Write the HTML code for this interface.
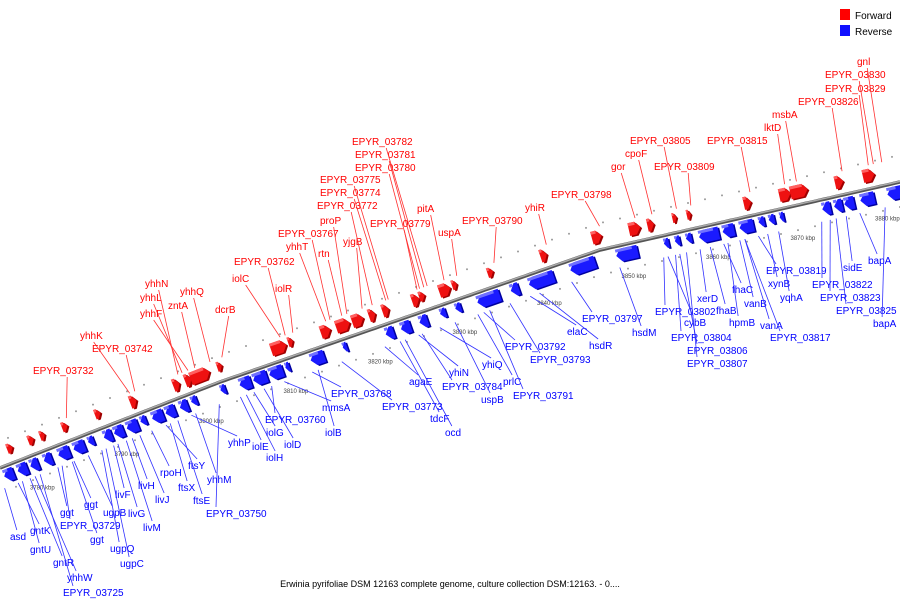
<!DOCTYPE html>
<html><head><meta charset="utf-8"><style>
html,body{margin:0;padding:0;background:#fff;}
svg{display:block;font-family:"Liberation Sans","DejaVu Sans",sans-serif;}
</style></head><body>
<svg id="chart" width="900" height="600" viewBox="0 0 900 600" xmlns="http://www.w3.org/2000/svg">
<g>
<rect x="840" y="9" width="10" height="11" fill="#ff0000"/>
<text x="855" y="19" font-size="10" fill="#000">Forward</text>
<rect x="840" y="25" width="10" height="11" fill="#1010ff"/>
<text x="855" y="35" font-size="10" fill="#000">Reverse</text>
</g>
<text x="450" y="587" font-size="9" text-anchor="middle" fill="#000">Erwinia pyrifoliae DSM 12163 complete genome, culture collection DSM:12163. - 0....</text>
<g id="layer"></g>
</svg>
<script>
// ---- data (kbp) ----
const tickKbp = [3780,3790,3800,3810,3820,3830,3840,3850,3860,3870,3880];
const tickLabels = ["3780 kbp","3790 kbp","3800 kbp","3810 kbp","3820 kbp","3830 kbp","3840 kbp","3850 kbp","3860 kbp","3870 kbp","3880 kbp"];
const fwdStart = [3777.9,3780.4,3781.8,3784.4,3788.3,3792.4,3797.5,3798.9,3799.5,3802.7,3809.0,3811.1,3814.9,3816.7,3818.6,3820.6,3822.2,3825.7,3826.6,3828.9,3830.5,3834.7,3840.9,3846.9,3851.2,3853.4,3856.4,3858.1,3864.8,3869.0,3870.3,3875.6,3878.9];
const fwdLen   = [0.7,0.7,0.6,0.7,0.7,0.8,0.8,0.8,2.4,0.6,1.9,0.6,1.2,1.7,1.4,0.8,0.8,0.9,0.7,1.4,0.6,0.7,0.8,1.2,1.4,0.8,0.5,0.5,0.9,1.4,2.1,1.0,1.4];
const revStart = [3776.5,3778.1,3779.6,3781.2,3782.9,3784.7,3786.5,3788.3,3789.5,3791.0,3792.7,3794.0,3795.6,3797.3,3798.7,3802.2,3804.4,3806.0,3807.9,3809.9,3812.8,3816.7,3821.7,3823.5,3825.7,3828.2,3830.0,3832.5,3836.5,3838.6,3843.5,3849.1,3854.8,3856.1,3857.4,3858.9,3861.7,3863.7,3866.0,3867.2,3868.5,3873.5,3874.9,3876.1,3878.0,3881.2];
const revLen   = [1.2,1.2,1.0,1.0,1.4,1.4,0.7,1.0,1.2,1.4,0.7,1.4,1.2,1.0,0.7,0.6,1.4,1.7,1.7,0.5,1.7,0.5,1.0,1.2,1.0,0.7,0.7,2.8,1.0,3.1,3.1,2.6,0.6,0.6,0.7,2.4,1.4,1.7,0.7,0.7,0.5,1.0,1.0,1.2,1.7,1.7];
const fwdNames = ["EPYR_03732","yhhK","EPYR_03742","yhhN","yhhL","yhhF","zntA","yhhQ","dcrB","iolC","EPYR_03762","iolR","yhhT","EPYR_03767","rtn","proP","yjgB","EPYR_03772","EPYR_03774","EPYR_03775","EPYR_03780","EPYR_03781","EPYR_03782","EPYR_03779","pitA","uspA","EPYR_03790","yhiR","EPYR_03798","gor","cpoF","EPYR_03805","EPYR_03809","EPYR_03815","lktD","msbA","EPYR_03826","EPYR_03829","EPYR_03830","gnl"];
const fwdAnchor = [3784.3,3791.8,3792.4,3797.5,3798.0,3798.7,3799.5,3801.3,3802.7,3809.6,3810.2,3811.1,3815.0,3815.5,3816.9,3817.5,3819.3,3820.5,3822.1,3822.4,3826.1,3826.6,3827.0,3825.8,3829.0,3830.5,3834.9,3841.1,3847.4,3851.6,3853.6,3856.5,3858.2,3865.2,3869.3,3870.7,3876.1,3879.2,3879.8,3880.8];
const revNames = ["asd","gntK","gntU","gntR","yhhW","EPYR_03725","ggt","EPYR_03729","ggt","ggt","ugpB","ugpQ","ugpC","livF","livG","livM","livH","livJ","rpoH","ftsY","ftsX","ftsE","yhhP","yhhM","EPYR_03750","iolE","iolH","iolG","iolD","EPYR_03760","mmsA","EPYR_03768","iolB","EPYR_03773","agaE","tdcF","ocd","yhiN","EPYR_03784","yhiQ","uspB","prlC","EPYR_03792","EPYR_03791","EPYR_03793","elaC","hsdR","EPYR_03797","hsdM","EPYR_03802","cybB","EPYR_03804","EPYR_03806","EPYR_03807","xerD","fhaB","fhaC","hpmB","vanB","vanA","EPYR_03819","xynB","yqhA","EPYR_03817","EPYR_03822","EPYR_03823","EPYR_03825","sidE","bapA","bapA"];
const revAnchor = [3777.0,3778.6,3779.1,3780.0,3780.6,3781.2,3783.3,3783.8,3785.2,3785.0,3786.9,3788.5,3789.0,3789.9,3790.4,3791.4,3792.1,3793.0,3794.4,3796.1,3796.6,3797.5,3799.1,3799.6,3802.4,3804.9,3805.6,3806.5,3807.7,3808.6,3810.1,3813.4,3814.1,3816.9,3822.0,3823.8,3824.4,3826.0,3826.4,3828.5,3830.3,3833.0,3833.7,3834.4,3836.8,3839.2,3840.3,3844.1,3849.8,3855.0,3855.5,3856.4,3856.9,3857.7,3859.3,3860.5,3862.1,3862.6,3864.0,3864.6,3866.2,3867.3,3868.6,3864.6,3873.7,3874.7,3875.4,3876.6,3878.2,3881.2];

// ---- layout (label placement, pixels) ----
const fwdLabelPos = [[33,374],[80,339],[92,352],[145,287],[140,301],[140,317],[168,309],[180,295],[215,313],[232,282],[234,265],[275,292],[286,250],[278,237],[318,257],[320,224],[343,245],[317,209],[320,196],[320,183],[355,171],[355,158],[352,145],[370,227],[417,212],[438,236],[462,224],[525,211],[551,198],[611,170],[625,157],[630,144],[654,170],[707,144],[764,131],[772,118],[798,105],[825,92],[825,78],[857,65]];
const revLabelPos = [[10,540],[30,534],[30,553],[53,566],[67,581],[63,596],[60,516],[60,529],[84,508],[90,543],[103,516],[110,552],[120,567],[115,498],[128,517],[143,531],[138,489],[155,503],[160,476],[188,469],[178,491],[193,504],[228,446],[207,483],[206,517],[252,450],[266,461],[266,436],[284,448],[265,423],[322,411],[331,397],[325,436],[382,410],[409,385],[430,422],[445,436],[449,376],[442,390],[482,368],[481,403],[503,385],[505,350],[513,399],[530,363],[567,335],[589,349],[582,322],[632,336],[655,315],[684,326],[671,341],[687,354],[687,367],[697,302],[716,314],[732,293],[729,326],[744,307],[760,329],[766,274],[768,287],[780,301],[770,341],[812,288],[820,301],[836,314],[843,271],[868,264],[873,327]];

const NS = "http://www.w3.org/2000/svg";
const layer = document.getElementById('layer');
const K0 = 3776.45, PXK = 8.45;
function xOf(k){ return (k - K0) * PXK; }
const LP = [[0,468],[220,382],[600,250],[900,182],[1000,160]];
function yOf(x){
  for(let i=0;i<LP.length-1;i++){
    const a=LP[i], b=LP[i+1];
    if(x<=b[0]){ return a[1] + (b[1]-a[1])*(x-a[0])/(b[0]-a[0]); }
  }
  return LP[LP.length-1][1];
}
function ang(x){ return Math.atan2(yOf(x+3)-yOf(x-3), 6)*180/Math.PI; }
function mk(tag, attrs, parent){
  const e=document.createElementNS(NS,tag);
  for(const k in attrs) e.setAttribute(k, attrs[k]);
  (parent||layer).appendChild(e); return e;
}

// decorative dots
const dots = mk('g',{});


for(let x=8;x<900;x+=17){
  mk('circle',{cx:x, cy:yOf(x)-27, r:1, fill:'#999'}, dots);
  mk('circle',{cx:x+8, cy:yOf(x+8)+25, r:1, fill:'#999'}, dots);
}

// axis line
const axisPts=[]; for(let x=0;x<=900;x+=5) axisPts.push(x+','+yOf(x).toFixed(1));
const axShadow = mk('polyline',{points:axisPts.join(' '), fill:'none', stroke:'#555', 'stroke-width':3.5});


const ax = mk('polyline',{points:axisPts.join(' '), fill:'none', stroke:'#aaa', 'stroke-width':1.5, transform:'translate(0,-0.7)'});



// ticks
tickKbp.forEach((k,i)=>{
  const x=xOf(k);
  const t = mk('text',{x:x, y:yOf(x)+33, 'font-size':6, fill:'#444'});
  
  
  t.textContent = tickLabels[i];
});

// genes
function gene(k, len, fwd){
  const x0 = xOf(k), w = Math.max(3, len*PXK), cx = x0 + w/2;
  const g = mk('g',{transform:`translate(${cx},${yOf(cx)}) rotate(${ang(cx)})`});
  
  
  const h = w < 6 ? 10 : 13;
  const top = fwd ? -20 : 3;
  const head = Math.min(5, w*0.6);
  let pts;
  if(fwd) pts = [[-w/2,top],[w/2-head,top],[w/2,top+h/2],[w/2-head,top+h],[-w/2,top+h]];
  else pts = [[w/2,top],[-w/2+head,top],[-w/2,top+h/2],[-w/2+head,top+h],[w/2,top+h]];
  const s = pts.map(p=>p.join(',')).join(' ');
  mk('polygon',{points:s, fill: fwd?'#a00000':'#0000a0', transform:'translate(1.5,1.5)'}, g);
  mk('polygon',{points:s, fill: fwd?'#ee1111':'#1a1aff'}, g);
  mk('rect',{x:-w/2, y:top, width:Math.max(1,w-head), height:3, fill: fwd?'#ff6060':'#7070ff'}, g);
}
fwdStart.forEach((k,i)=>gene(k, fwdLen[i], true));
revStart.forEach((k,i)=>gene(k, revLen[i], false));

// labels
function label(name, k, pos, fwd){
  const g = mk('g',{});
  
  
  const col = fwd ? '#ff0000' : '#0000ff';
  const t = mk('text',{x:pos[0], y:pos[1], 'font-size':10, fill:col}, g);
  t.textContent = name;
  const w = name.length * 5.7;
  const ax = xOf(k);
  let x1,y1,x2,y2;
  if(fwd){ x1 = pos[0] + w*0.6; y1 = pos[1] + 3; x2 = ax; y2 = yOf(ax) - 24; }
  else { x1 = ax; y1 = yOf(ax) + 22; x2 = pos[0] + Math.min(w*0.4, 10); y2 = pos[1] - 10; }
  const l = mk('line',{x1,y1,x2,y2, stroke: fwd?'#ff3030':'#3030ff', 'stroke-width':0.8}, g);
}
fwdNames.forEach((n,i)=>label(n, fwdAnchor[i], fwdLabelPos[i], true));
revNames.forEach((n,i)=>label(n, revAnchor[i], revLabelPos[i], false));
</script>
</body></html>
